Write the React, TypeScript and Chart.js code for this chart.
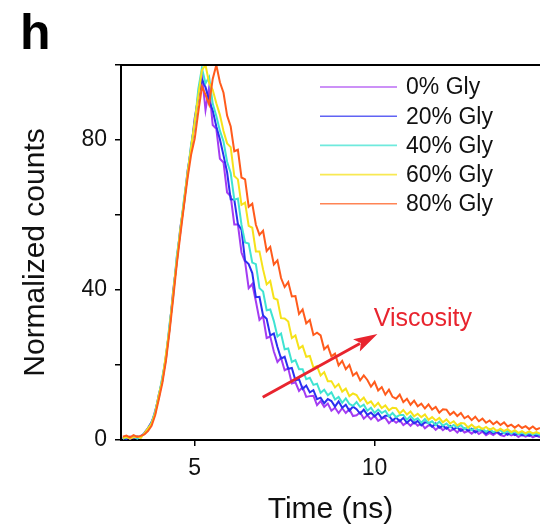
import React, { useEffect, useRef } from "react";
import { Chart, registerables } from "chart.js";

Chart.register(...registerables);

// ---- data ----
const TIME = [
  3.0, 3.1, 3.2, 3.3, 3.4, 3.5, 3.6, 3.7, 3.8, 3.9,
  4.0, 4.1, 4.2, 4.3, 4.4, 4.5, 4.6, 4.7, 4.8, 4.9,
  5.0, 5.1, 5.2, 5.3, 5.4, 5.5, 5.6, 5.7, 5.8, 5.9,
  6.0, 6.1, 6.2, 6.3, 6.4, 6.5, 6.6, 6.7, 6.8, 6.9,
  7.0, 7.1, 7.2, 7.3, 7.4, 7.5, 7.6, 7.7, 7.8, 7.9,
  8.0, 8.1, 8.2, 8.3, 8.4, 8.5, 8.6, 8.7, 8.8, 8.9,
  9.0, 9.1, 9.2, 9.3, 9.4, 9.5, 9.6, 9.7, 9.8, 9.9,
  10.0, 10.1, 10.2, 10.3, 10.4, 10.5, 10.6, 10.7, 10.8, 10.9,
  11.0, 11.1, 11.2, 11.3, 11.4, 11.5, 11.6, 11.7, 11.8, 11.9,
  12.0, 12.1, 12.2, 12.3, 12.4, 12.5, 12.6, 12.7, 12.8, 12.9,
  13.0, 13.1, 13.2, 13.3, 13.4, 13.5, 13.6, 13.7, 13.8, 13.9,
  14.0, 14.1, 14.2, 14.3, 14.4, 14.5, 14.6,
];

const SERIES_LABELS = ["0% Gly", "20% Gly", "40% Gly", "60% Gly", "80% Gly"];

const GLY_0 = [
  0.4, 0.9, 0.3, 0.8, 0.5, 1.1, 1.6, 2.9, 4.3, 7.8,
  11.2, 16.5, 21.6, 30.4, 38.6, 48.5, 55.4, 63.6, 70.5, 78.4,
  84.5, 92.3, 97.5, 88.0, 94.0, 84.0, 83.0, 75.0, 74.0, 66.0,
  65.0, 57.5, 57.5, 50.0, 47.5, 40.5, 41.6, 37.0, 32.0, 33.0,
  27.2, 27.6, 23.6, 20.8, 21.9, 18.6, 19.1, 15.1, 15.4, 13.1,
  14.1, 11.5, 11.7, 11.8, 9.3, 10.4, 8.8, 9.7, 7.8, 8.6,
  7.2, 8.5, 7.2, 8.2, 6.4, 6.6, 7.4, 5.7, 6.6, 5.5,
  6.5, 5.1, 5.7, 5.9, 4.5, 5.4, 4.6, 5.3, 4.0, 4.7,
  3.8, 4.8, 3.8, 4.4, 3.1, 3.9, 3.8, 2.7, 3.6, 2.6,
  3.4, 2.4, 2.9, 2.0, 3.0, 2.0, 2.4, 1.7, 2.5, 1.6,
  2.2, 1.3, 1.9, 1.3, 2.0, 1.3, 1.0, 1.8, 1.2, 1.6,
  0.8, 1.4, 0.9, 1.4, 0.7, 1.2, 0.7,
];

const GLY_20 = [
  0.6, 0.3, 0.9, 0.5, 1.0, 0.7, 1.9, 3.2, 4.8, 7.2,
  12.1, 15.8, 22.5, 29.6, 39.8, 47.4, 56.6, 62.8, 71.7, 77.6,
  85.8, 91.4, 96.2, 94.1, 90.5, 87.9, 83.6, 80.2, 75.9, 71.4,
  64.2, 64.1, 57.6, 56.1, 47.8, 46.9, 44.5, 38.1, 38.2, 33.2,
  32.3, 27.9, 28.4, 24.8, 21.7, 22.2, 19.0, 19.2, 15.9, 16.2,
  13.6, 14.5, 12.7, 13.3, 10.9, 11.3, 9.8, 10.9, 10.4, 8.9,
  10.3, 8.6, 9.4, 7.8, 8.9, 8.2, 7.0, 8.1, 6.7, 7.3,
  6.3, 7.2, 5.8, 6.5, 6.5, 5.2, 6.0, 5.0, 5.9, 4.6,
  5.5, 4.4, 5.1, 3.9, 4.7, 4.6, 3.5, 4.4, 3.3, 3.8,
  3.0, 3.8, 2.9, 3.4, 2.4, 3.1, 2.5, 3.0, 2.0, 2.6,
  2.5, 1.7, 2.4, 1.8, 2.3, 1.5, 2.0, 1.4, 2.1, 1.3,
  1.8, 1.2, 1.6, 1.1, 1.6, 1.1, 1.3,
];

const GLY_40 = [
  0.3, 0.7, 0.5, 1.0, 0.4, 0.9, 1.7, 2.7, 4.6, 7.6,
  11.6, 16.8, 21.9, 30.9, 38.2, 48.9, 55.9, 64.1, 70.9, 78.8,
  84.2, 93.6, 99.2, 95.1, 96.8, 89.7, 86.4, 82.5, 79.6, 74.2,
  71.2, 64.1, 64.4, 57.4, 52.7, 52.4, 47.3, 46.9, 40.5, 39.6,
  34.6, 34.8, 31.7, 27.6, 28.4, 24.2, 24.4, 20.8, 21.3, 18.9,
  18.9, 16.2, 16.6, 14.7, 15.0, 12.6, 13.4, 11.9, 12.7, 10.8,
  11.5, 9.9, 11.1, 9.6, 9.1, 10.1, 8.8, 9.4, 7.8, 8.6,
  7.2, 8.1, 7.2, 7.8, 6.3, 7.2, 6.1, 6.7, 6.7, 5.4,
  6.4, 5.3, 5.8, 4.6, 5.6, 4.5, 5.0, 4.0, 4.9, 3.8,
  4.4, 3.4, 4.0, 3.3, 4.0, 2.9, 3.5, 2.6, 3.3, 2.6,
  3.0, 2.2, 2.9, 2.1, 2.5, 2.6, 1.8, 2.4, 1.7, 2.3,
  1.5, 2.0, 1.4, 2.0, 1.4, 1.8, 1.3,
];

const GLY_60 = [
  0.5, 0.8, 0.4, 0.7, 0.9, 0.6, 1.8, 3.1, 4.4, 7.1,
  11.9, 15.9, 22.8, 29.8, 39.3, 47.8, 56.2, 63.3, 71.2, 77.9,
  85.1, 91.8, 98.6, 100.0, 95.2, 93.4, 89.8, 86.7, 82.4, 79.1,
  78.1, 70.4, 69.5, 62.7, 63.3, 57.1, 56.6, 50.3, 50.3, 45.5,
  41.5, 42.4, 37.8, 37.4, 32.5, 32.4, 31.6, 27.2, 27.9, 24.4,
  25.1, 22.2, 22.4, 19.3, 19.7, 17.2, 18.1, 15.7, 15.7, 14.0,
  14.9, 12.9, 13.7, 11.7, 12.4, 12.0, 10.4, 11.3, 9.7, 10.3,
  8.9, 9.9, 8.5, 9.2, 7.9, 8.6, 8.5, 7.1, 8.0, 6.8,
  7.6, 6.3, 7.0, 6.1, 6.8, 5.4, 6.1, 5.2, 5.9, 4.7,
  5.5, 4.4, 5.0, 3.9, 4.5, 4.4, 3.3, 4.1, 3.2, 3.6,
  2.9, 3.5, 2.7, 3.2, 2.4, 3.0, 2.4, 2.9, 2.1, 2.6,
  1.9, 2.35, 1.8, 2.3, 1.75, 2.1, 1.7,
];

const GLY_80 = [
  0.9, 1.2, 0.7, 1.3, 0.8, 1.1, 1.5, 2.4, 3.8, 6.6,
  10.8, 15.2, 21.1, 28.9, 37.6, 46.8, 54.7, 62.4, 69.8, 76.1,
  80.4, 87.6, 94.2, 92.1, 89.5, 96.3, 100.0, 95.4, 92.6, 86.5,
  83.6, 77.0, 77.4, 70.0, 69.5, 62.2, 63.0, 57.4, 54.7, 55.8,
  50.4, 51.5, 46.8, 47.9, 43.2, 40.8, 42.1, 38.3, 38.4, 33.6,
  34.8, 31.1, 32.0, 28.0, 28.6, 27.9, 24.2, 25.1, 22.3, 23.0,
  19.9, 21.1, 18.9, 20.0, 17.2, 18.0, 15.9, 17.2, 16.0, 14.2,
  15.5, 13.2, 14.1, 12.1, 13.4, 11.5, 11.0, 12.1, 10.1, 11.0,
  9.4, 10.5, 9.0, 9.7, 8.4, 9.5, 8.1, 8.8, 7.3, 8.2,
  8.1, 6.7, 7.5, 6.4, 7.2, 5.8, 6.4, 5.3, 6.2, 5.0,
  5.7, 4.6, 5.2, 4.2, 4.9, 4.0, 4.7, 3.6, 4.1, 3.3,
  4.0, 3.2, 3.7, 2.9, 3.6, 2.8, 3.2,
];

const SERIES_VALUES = [GLY_0, GLY_20, GLY_40, GLY_60, GLY_80];

const Y_TICK_LABELS = [0, 40, 80];
const X_TICK_VALUES = [5, 10];

const PANEL_LABEL = "h";
const X_TITLE = "Time (ns)";
const Y_TITLE = "Normalized counts";
const ANNOTATION_TEXT = "Viscosity";
// annotation anchor points in data coordinates [time, counts]
const ARROW_START = [6.89, 11.4];
const ARROW_END = [10.08, 28.3];
const ANNOTATION_AT = [9.98, 30.4];

// ---- styles ----
const COLORS = ["#a43cf2", "#2b2ff0", "#3fe3d2", "#f6e21a", "#ff5b1c"];
const FONT = "'Liberation Sans', Arial, Helvetica, sans-serif";
const RED = "#e8242e";

const overlayPlugin = {
  id: "overlay",
  afterDatasetsDraw(chart: any) {
    const { ctx, chartArea, scales } = chart;
    const xs = scales.x;
    const ys = scales.y;
    ctx.save();

    // top frame line
    ctx.strokeStyle = "#000";
    ctx.lineWidth = 2;
    ctx.beginPath();
    ctx.moveTo(chartArea.left - 1, chartArea.top);
    ctx.lineTo(chartArea.right, chartArea.top);
    ctx.stroke();

    // legend
    const lx0 = 320;
    const lx1 = 397;
    const tx = 406;
    const rowTop = 87;
    const rowStep = 29.2;
    ctx.font = `23px ${FONT}`;
    ctx.textBaseline = "middle";
    ctx.textAlign = "left";
    SERIES_LABELS.forEach((lab, i) => {
      const y = rowTop + i * rowStep;
      ctx.strokeStyle = COLORS[i];
      ctx.globalAlpha = 0.75;
      ctx.lineWidth = 1.6;
      ctx.beginPath();
      ctx.moveTo(lx0, y);
      ctx.lineTo(lx1, y);
      ctx.stroke();
      ctx.globalAlpha = 1;
      ctx.fillStyle = "#111";
      ctx.fillText(lab, tx, y + 1);
    });

    // arrow
    const ax0 = xs.getPixelForValue(ARROW_START[0]);
    const ay0 = ys.getPixelForValue(ARROW_START[1]);
    const ax1 = xs.getPixelForValue(ARROW_END[0]);
    const ay1 = ys.getPixelForValue(ARROW_END[1]);
    const ang = Math.atan2(ay1 - ay0, ax1 - ax0);
    const headLen = 24;
    const headHalf = 7;
    const bx = ax1 - headLen * Math.cos(ang);
    const by = ay1 - headLen * Math.sin(ang);
    ctx.strokeStyle = RED;
    ctx.fillStyle = RED;
    ctx.lineWidth = 3;
    ctx.beginPath();
    ctx.moveTo(ax0, ay0);
    ctx.lineTo(bx + 4 * Math.cos(ang), by + 4 * Math.sin(ang));
    ctx.stroke();
    ctx.beginPath();
    ctx.moveTo(ax1, ay1);
    ctx.lineTo(bx - headHalf * Math.sin(ang), by + headHalf * Math.cos(ang));
    ctx.lineTo(bx + 5 * Math.cos(ang), by + 5 * Math.sin(ang));
    ctx.lineTo(bx + headHalf * Math.sin(ang), by - headHalf * Math.cos(ang));
    ctx.closePath();
    ctx.fill();

    // annotation text
    ctx.font = `25px ${FONT}`;
    ctx.fillStyle = RED;
    ctx.textBaseline = "alphabetic";
    ctx.fillText(
      ANNOTATION_TEXT,
      xs.getPixelForValue(ANNOTATION_AT[0]),
      ys.getPixelForValue(ANNOTATION_AT[1])
    );

    // panel label
    ctx.font = `bold 50px ${FONT}`;
    ctx.fillStyle = "#000";
    ctx.fillText(PANEL_LABEL, 20, 49);

    ctx.restore();
  },
};

export default function App() {
  const ref = useRef<HTMLCanvasElement | null>(null);

  useEffect(() => {
    if (!ref.current) return;
    const datasets = SERIES_VALUES.map((vals, i) => ({
      label: SERIES_LABELS[i],
      data: TIME.map((t, j) => ({ x: t, y: vals[j] })),
      borderColor: COLORS[i],
      backgroundColor: COLORS[i],
      borderWidth: 2,
      pointRadius: 0,
      tension: 0,
      fill: false,
      order: SERIES_VALUES.length - 1 - i,
    }));

    const chart = new Chart(ref.current, {
      type: "line",
      data: { datasets },
      options: {
        animation: false,
        responsive: false,
        maintainAspectRatio: false,
        layout: { padding: { left: 0, right: 0, top: 65, bottom: 0 } },
        plugins: {
          legend: { display: false },
          tooltip: { enabled: false },
        },
        scales: {
          x: {
            type: "linear",
            min: 2.95,
            max: 14.6,
            afterBuildTicks: (s: any) => {
              s.ticks = X_TICK_VALUES.map((v) => ({ value: v }));
            },
            afterFit: (s: any) => {
              s.height = 88;
            },
            grid: {
              display: true,
              drawOnChartArea: false,
              drawTicks: true,
              tickLength: 6,
              color: "#000",
              lineWidth: 1.5,
            },
            border: { display: true, color: "#000", width: 2 },
            ticks: {
              font: { size: 23, family: FONT },
              color: "#111",
              padding: 9,
              maxRotation: 0,
              autoSkip: false,
            },
            title: {
              display: true,
              text: X_TITLE,
              font: { size: 30, family: FONT },
              color: "#111",
              padding: { top: 0, bottom: 0 },
            },
          },
          y: {
            type: "linear",
            min: 0,
            max: 100,
            afterFit: (s: any) => {
              s.width = 121;
            },
            grid: {
              display: true,
              drawOnChartArea: false,
              drawTicks: true,
              tickLength: 6,
              color: "#000",
              lineWidth: 1.5,
            },
            border: { display: true, color: "#000", width: 2 },
            ticks: {
              stepSize: 20,
              font: { size: 23, family: FONT },
              color: "#111",
              padding: 8,
              autoSkip: false,
              callback: (v: any) => (Y_TICK_LABELS.includes(Number(v)) ? String(v) : ""),
            },
            title: {
              display: true,
              text: Y_TITLE,
              font: { size: 30, family: FONT },
              color: "#111",
              padding: { top: 18, bottom: 0 },
            },
          },
        },
      },
      plugins: [overlayPlugin],
    } as any);

    return () => chart.destroy();
  }, []);

  return (
    <div style={{ position: "absolute", left: 0, top: 0, width: 540, height: 528, background: "#fff" }}>
      <canvas ref={ref} width={540} height={528} style={{ display: "block", width: 540, height: 528 }} />
    </div>
  );
}
